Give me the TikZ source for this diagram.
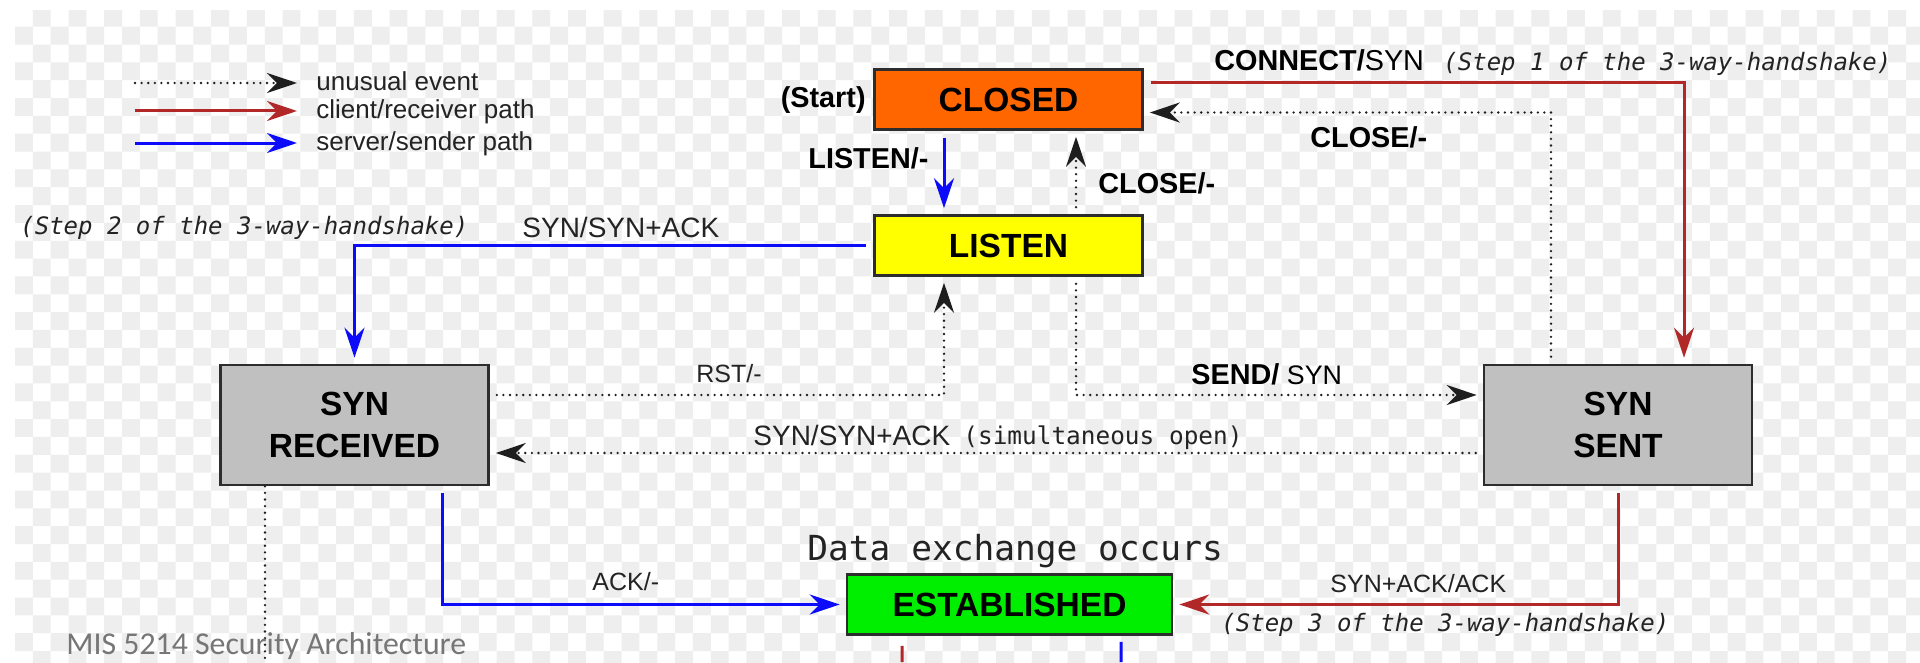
\documentclass[tikz,border=0pt]{standalone}
\usepackage{fontspec}
\setmainfont{Liberation Sans}
\newfontfamily\monofont{DejaVu Sans Mono}
\newfontfamily\slidefont{Carlito}
\usetikzlibrary{arrows.meta}

\definecolor{checkgrey}{RGB}{238,238,238}
\definecolor{clientred}{RGB}{178,40,40}
\definecolor{serverblue}{RGB}{12,12,250}
\definecolor{dotgrey}{RGB}{30,30,30}
\definecolor{boxline}{RGB}{45,45,45}
\definecolor{closedorange}{RGB}{255,102,0}
\definecolor{listenyellow}{RGB}{255,255,0}
\definecolor{stategrey}{RGB}{192,192,192}
\definecolor{estgreen}{RGB}{0,238,0}
\definecolor{labeltext}{RGB}{35,35,35}
\definecolor{footgrey}{RGB}{118,118,118}

\begin{document}
\begin{tikzpicture}[x=0.5bp,y=-0.5bp,
  statebox/.style={draw=boxline, line width=1.3bp, minimum width=134bp,
    minimum height=30bp, inner sep=0pt, align=center, text=black,
    font=\fontsize{16.75bp}{21bp}\selectfont\bfseries},
  headtip/.style={-{Stealth[length=15bp,width=10bp,inset=5bp]}},
  clientpath/.style={draw=clientred, line width=1.5bp, headtip},
  serverpath/.style={draw=serverblue, line width=1.5bp, headtip},
  rarepath/.style={draw=dotgrey, line width=1.3bp, line cap=round,
    dash pattern=on 0bp off 3.3bp, headtip},
  gap/.style={shorten <=3.5bp, shorten >=3bp},
  lbl/.style={inner sep=0pt, anchor=base west, text=labeltext},
  boldlbl/.style={lbl, text=black, font=\fontsize{14.4bp}{17bp}\selectfont\bfseries},
  reglbl/.style={lbl, font=\fontsize{#1}{17bp}\selectfont},
  monolbl/.style={lbl, font=\monofont\fontsize{#1}{17bp}\selectfont},
  legendlbl/.style={lbl, font=\fontsize{13bp}{15bp}\selectfont},
]
% page and transparency checkerboard
\useasboundingbox (0,0) rectangle (1920,662);
\fill[white] (0,0) rectangle (1920,662);
\begin{scope}
  \clip (15,11) rectangle (1920,662);
  \foreach \r in {0,...,36} {
    \pgfmathtruncatemacro\cs{mod(\r+1,2)}
    \fill[checkgrey] foreach \k in {0,...,53}
      { ({15+17.84*(2*\k+\cs)},{8.83+17.84*\r}) rectangle ++(17.84,17.84) };
  }
\end{scope}

% states
\node[statebox, fill=closedorange] (closed) at (1008.5,99.5) {CLOSED};
\node[statebox, fill=listenyellow] (listen) at (1008.5,245.5) {LISTEN};
\node[statebox, fill=stategrey, minimum height=60bp] (synrcvd) at (354.5,425) {SYN\\RECEIVED};
\node[statebox, fill=stategrey, minimum height=60bp] (synsent) at (1618,425) {SYN\\SENT};
\node[statebox, fill=estgreen, minimum width=162.5bp] (est) at (1009.5,604.5) {ESTABLISHED};

% legend
\coordinate (lgdotA) at (135,83);  \coordinate (lgdotB) at (297,83);
\coordinate (lgredA) at (135,111); \coordinate (lgredB) at (297,111);
\coordinate (lgbluA) at (135,143); \coordinate (lgbluB) at (297,143);
\draw[rarepath] (lgdotA) -- (lgdotB);
\draw[clientpath] (lgredA) -- (lgredB);
\draw[serverpath] (lgbluA) -- (lgbluB);
\node[legendlbl] (lgdottxt) at (316,91) {unusual event};
\node[legendlbl] (lgredtxt) at (316,119) {client/receiver path};
\node[legendlbl] (lgblutxt) at (316,150) {server/sender path};

% transitions
\draw[clientpath, gap] ([yshift=8.5bp]closed.east) -| ([xshift=33bp]synsent.north);
\draw[rarepath, gap] ([xshift=-33.5bp]synsent.north) |- ([yshift=-6.5bp]closed.east);
\draw[serverpath, gap] ([xshift=-32.25bp]closed.south) -- ([xshift=-32.25bp]listen.north);
\draw[rarepath, gap] ([xshift=33.75bp]listen.north) -- ([xshift=33.75bp]closed.south);
\draw[serverpath, gap] (listen.west) -| (synrcvd.north);
\draw[rarepath, gap] ([yshift=15bp]synrcvd.east) -| ([xshift=-32.25bp]listen.south);
\draw[rarepath, gap] ([xshift=33.75bp]listen.south) |- ([yshift=15bp]synsent.west);
\draw[rarepath, gap] ([yshift=-14bp]synsent.west) -- ([yshift=-14bp]synrcvd.east);
\draw[serverpath, gap] ([xshift=43.75bp]synrcvd.south) |- (est.west);
\draw[clientpath, gap] (synsent.south) |- (est.east);

% paths leaving the lower edge
\coordinate (exitrcvd) at (265,662);
\coordinate (exitred) at (902,662);
\coordinate (exitblue) at (1121,662);
\draw[rarepath, -] ([xshift=-44.75bp]synrcvd.south) -- (exitrcvd);
\draw[clientpath, -, shorten <=5bp] ([xshift=-53.75bp]est.south) -- (exitred);
\draw[serverpath, -, shorten <=3bp] ([xshift=55.75bp]est.south) -- (exitblue);

% transition labels
\node[boldlbl, anchor=base east] (starttxt) at (866,108) {(Start)};
\node[boldlbl] (listenlbl) at (808,168) {LISTEN/-};
\node[boldlbl] (closelblA) at (1098,193) {CLOSE/-};
\node[boldlbl] (closelblB) at (1310,147) {CLOSE/-};
\node[boldlbl] (connectlbl) at (1214,71) {CONNECT/\mdseries SYN};
\node[monolbl=12bp, font=\monofont\itshape\fontsize{12bp}{15bp}\selectfont] (step1) at (1443,70) {(Step 1 of the 3-way-handshake)};
\node[reglbl=14bp] (synacklbl) at (522,237) {SYN/SYN+ACK};
\node[monolbl=12bp, font=\monofont\itshape\fontsize{12bp}{15bp}\selectfont] (step2) at (20,234) {(Step 2 of the 3-way-handshake)};
\node[reglbl=12.5bp] (rstlbl) at (696,382) {RST/-};
\node[boldlbl] (sendlbl) at (1191,384) {SEND/\mdseries\fontsize{13.4bp}{17bp}\selectfont\ SYN};
\node[reglbl=14bp] (simlbl) at (753,445) {SYN/SYN+ACK};
\node[monolbl=12.2bp] (simnote) at (963,444) {(simultaneous open)};
\node[reglbl=12.5bp] (acklbl) at (592,590) {ACK/-};
\node[monolbl=17.25bp] (datalbl) at (807,560) {Data exchange occurs};
\node[reglbl=12.5bp] (synackacklbl) at (1330,592) {SYN+ACK/ACK};
\node[monolbl=12bp, font=\monofont\itshape\fontsize{12bp}{15bp}\selectfont] (step3) at (1221,631) {(Step 3 of the 3-way-handshake)};

% slide footer
\node[inner sep=0pt, anchor=base west, text=footgrey,
  font=\slidefont\fontsize{15.9bp}{18bp}\selectfont] (footer) at (66,654)
  {MIS 5214 Security Architecture};
\end{tikzpicture}
\end{document}
